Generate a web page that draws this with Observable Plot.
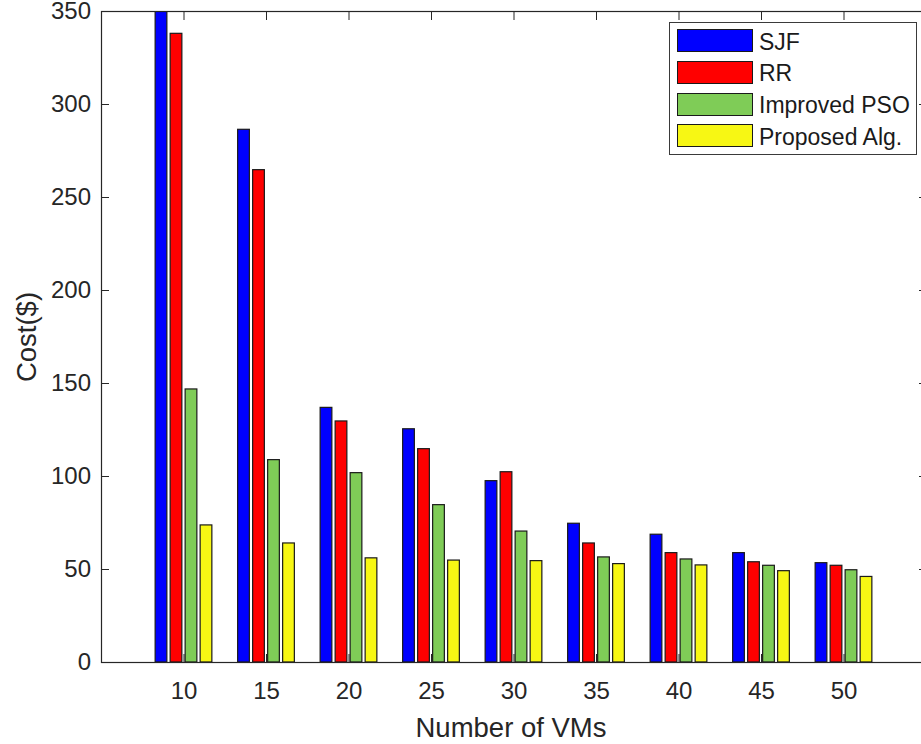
<!DOCTYPE html>
<html>
<head>
<meta charset="utf-8">
<script src="https://cdn.jsdelivr.net/npm/d3@7"></script>
<script src="https://cdn.jsdelivr.net/npm/@observablehq/plot@0.6"></script>
<style>
  body { margin: 0; background: #fff; }
  #chart { position: relative; width: 921px; height: 744px; overflow: hidden; font-family: "Liberation Sans", Arial, sans-serif; color: #262626; }
  #chart svg { display: block; }
  .legend { position: absolute; left: 669px; top: 22px; width: 248px; height: 133px; box-sizing: border-box; border: 1px solid #3a3a3a; background: #fff; }
  .legend .swatch { position: absolute; left: 7px; width: 76px; height: 23px; box-sizing: border-box; border: 1px solid #1a1a1a; }
  .legend .name { position: absolute; left: 89px; height: 23px; line-height: 23px; font-size: 23px; color: #1a1a1a; white-space: nowrap; }
</style>
</head>
<body>
<div id="chart"></div>
<script>
// Number of virtual machines (x categories)
const vmCounts = [10, 15, 20, 25, 30, 35, 40, 45, 50];
const seriesNames = ["SJF", "RR", "Improved PSO", "Proposed Alg."];
const seriesColors = ["#0000ff", "#ff0000", "#7fcc57", "#f7f714"];

// Cost ($) for each scheduling algorithm
const sjfCost = [362, 286.4, 136.9, 125.4, 97.5, 74.6, 68.7, 58.8, 53.4];
const rrCost = [338, 264.7, 129.6, 114.7, 102.3, 64.0, 58.8, 53.9, 52.0];
const improvedPsoCost = [146.8, 108.8, 101.8, 84.6, 70.4, 56.5, 55.4, 52.0, 49.6];
const proposedCost = [73.7, 64.0, 56.0, 54.8, 54.5, 52.9, 52.2, 49.1, 46.0];

const yTicks = [0, 50, 100, 150, 200, 250, 300, 350];

const costBySeries = [sjfCost, rrCost, improvedPsoCost, proposedCost];
const rows = seriesNames.flatMap((name, i) =>
  vmCounts.map((vms, j) => ({vms, series: name, index: i, cost: costBySeries[i][j]}))
);

// grouped-bar geometry, in x units (one category step = 5)
const barPitch = 0.909;
const barWidth = 0.71;
const nSeries = seriesNames.length;
const barLeft = d => d.vms + (d.index - (nSeries - 1) / 2) * barPitch - barWidth / 2;
const barRight = d => d.vms + (d.index - (nSeries - 1) / 2) * barPitch + barWidth / 2;

const ink = "#262626";
const tickFont = 24;

const chart = Plot.plot({
  width: 921,
  height: 744,
  marginLeft: 101,
  marginTop: 11,
  marginBottom: 82,
  marginRight: -5,
  x: {domain: [5, 55]},
  y: {domain: [0, 350]},
  color: {domain: seriesNames, range: seriesColors},
  style: {fontFamily: '"Liberation Sans", Arial, sans-serif', color: ink, background: "#fff", overflow: "visible"},
  marks: [
    // inward tick marks on all four sides
    Plot.axisX(vmCounts, {anchor: "bottom", tickSize: -8, tickFormat: () => "", label: null, stroke: ink}),
    Plot.axisX(vmCounts, {anchor: "top", tickSize: -8, tickFormat: () => "", label: null, stroke: ink}),
    Plot.axisY(yTicks, {anchor: "left", tickSize: -8, tickFormat: () => "", label: null, stroke: ink}),
    Plot.axisY(yTicks, {anchor: "right", tickSize: -8, tickFormat: () => "", label: null, stroke: ink}),
    // bars
    Plot.rectY(rows, {
      x1: barLeft,
      x2: barRight,
      y1: 0,
      y2: "cost",
      fill: "series",
      stroke: "#1a1a1a",
      strokeWidth: 1.2,
      clip: true
    }),
    // tick labels
    Plot.axisX(vmCounts, {anchor: "bottom", tickSize: 0, tickPadding: 19.5, fontSize: tickFont, label: null, fill: ink}),
    Plot.axisY(yTicks, {anchor: "left", tickSize: 0, tickPadding: 10.5, fontSize: tickFont, label: null, fill: ink}),
    // axis titles
    Plot.text(["Cost($)"], {frameAnchor: "left", rotate: -90, dx: -74, fontSize: 27.5, fill: ink, lineAnchor: "middle", textAnchor: "middle"}),
    Plot.text(["Number of VMs"], {frameAnchor: "bottom", dx: -3, dy: 66, fontSize: 27.5, fill: ink, lineAnchor: "middle", textAnchor: "middle"}),
    Plot.frame({stroke: ink, strokeWidth: 1.2})
  ]
});

const host = document.getElementById("chart");
host.appendChild(chart);

// legend box in the upper-right corner of the axes
const legend = document.createElement("div");
legend.className = "legend";
seriesNames.forEach((name, i) => {
  const sw = document.createElement("div");
  sw.className = "swatch";
  sw.style.top = (6.3 + i * 31.6) + "px";
  sw.style.background = seriesColors[i];
  legend.appendChild(sw);
  const label = document.createElement("div");
  label.className = "name";
  label.style.top = (7.8 + i * 31.6) + "px";
  label.textContent = name;
  legend.appendChild(label);
});
host.appendChild(legend);
</script>
</body>
</html>
